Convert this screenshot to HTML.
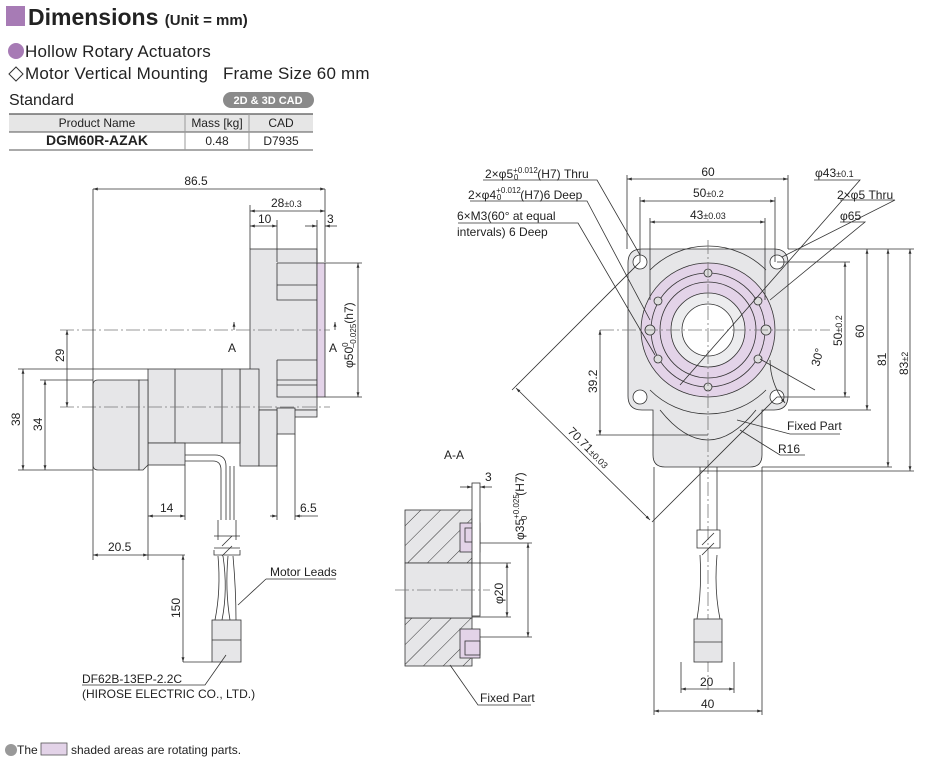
<!DOCTYPE html>
<html><head><meta charset="utf-8"><style>
html,body{margin:0;padding:0;background:#fff;}
body{width:950px;height:774px;overflow:hidden;font-family:"Liberation Sans",sans-serif;}
svg text{font-family:"Liberation Sans",sans-serif;fill:#222;}
</style></head><body>
<svg width="950" height="774" viewBox="0 0 950 774" xmlns="http://www.w3.org/2000/svg">
<defs>
<marker id="a" viewBox="0 0 10 10" refX="10" refY="5" markerWidth="6" markerHeight="6" orient="auto-start-reverse"><path d="M0,2L10,5L0,8z" fill="#333"/></marker>
<pattern id="h" width="14" height="14" patternUnits="userSpaceOnUse" patternTransform="rotate(45)"><rect width="14" height="14" fill="#e6e6e8"/><line x1="0" y1="0" x2="0" y2="14" stroke="#333" stroke-width="1"/></pattern>
</defs>
<rect x="6" y="6" width="19" height="20" fill="#a77bb5"/>
<text x="28" y="25" font-size="23" font-weight="bold">Dimensions <tspan font-size="15">(Unit = mm)</tspan></text>
<circle cx="16" cy="51" r="8" fill="#a77bb5"/>
<text x="25" y="57" font-size="17" letter-spacing="0.2">Hollow Rotary Actuators</text>
<path d="M9,74 L16,67 L23,74 L16,81 Z" fill="none" stroke="#333"/>
<text x="25" y="79" font-size="17" letter-spacing="0.2" xml:space="preserve">Motor Vertical Mounting   Frame Size 60 mm</text>
<text x="9" y="105" font-size="16">Standard</text>
<rect x="223" y="92" width="91" height="16" rx="8" fill="#8a8a8a"/>
<text x="268" y="104" font-size="11" font-weight="bold" style="fill:#fff" text-anchor="middle">2D &amp; 3D CAD</text>
<rect x="9" y="114" width="304" height="18" fill="#e6e6e6"/>
<line x1="9" y1="114" x2="313" y2="114" stroke="#555" stroke-width="1.2"/>
<line x1="9" y1="132" x2="313" y2="132" stroke="#555"/>
<line x1="9" y1="150" x2="313" y2="150" stroke="#555"/>
<line x1="185" y1="114" x2="185" y2="150" stroke="#999"/>
<line x1="249" y1="114" x2="249" y2="150" stroke="#999"/>
<text x="97" y="127" font-size="12" text-anchor="middle">Product Name</text>
<text x="217" y="127" font-size="12" text-anchor="middle">Mass [kg]</text>
<text x="281" y="127" font-size="12" text-anchor="middle">CAD</text>
<text x="97" y="145" font-size="14" font-weight="bold" text-anchor="middle">DGM60R-AZAK</text>
<text x="217" y="145" font-size="12" text-anchor="middle">0.48</text>
<text x="281" y="145" font-size="12" text-anchor="middle">D7935</text>

<g stroke="#333" stroke-width="0.8" fill="none">
<g fill="#e6e6e8">
<rect x="250" y="249" width="67" height="161"/>
<rect x="277" y="410" width="40" height="7"/>
<rect x="277" y="408" width="18" height="26"/>
<rect x="240" y="369" width="19" height="97"/>
<rect x="259" y="410" width="18" height="56"/>
<rect x="148" y="369" width="92" height="74"/>
<rect x="148" y="443" width="37" height="22"/>
<path d="M93,385 Q93,380 98,380 L139,380 L139,470 L98,470 Q93,470 93,465 Z"/>
<path d="M139,380 L148,380 L148,465 L143,470 L139,470 Z"/>
</g>
<rect x="317" y="263" width="8" height="134" fill="#e3d3e8"/>
<path d="M277,263 H317 M277,263 V300 H317 M277,285 H317 M277,360 H317 M277,360 V397 H317 M277,380 H317 M277,385 H317"/>
<path d="M175,369 V443 M222,369 V443"/>
<path d="M185,455 H215 Q226,455 226,466 V520 M185,461 H213 Q221,461 221,470 V520 M230,466 V520 M234,466 V520"/>
<path d="M218,520 V540 M236,520 V540 M214,536 H240 M214,548 H240 M222,546 L232,536 M222,556 L232,546 M214,550 V555 H240 V550"/>
<path d="M218,556 Q221,590 215,620 M223,556 Q228,590 222,620 M228,556 Q225,590 230,620 M233,556 Q236,590 236,620"/>
<rect x="212" y="620" width="29" height="42" fill="#e6e6e8"/>
<line x1="212" y1="640" x2="241" y2="640"/>
<g stroke-dasharray="14,3,2,3" stroke="#777"><line x1="60" y1="330" x2="330" y2="330"/><line x1="60" y1="407" x2="330" y2="407"/></g>
<path d="M93,189 V480 M325,189 V262 M250,205 V249 M277,220 V262 M317,220 V262 M93,480 V560 M148,465 V560 M185,465 V520 M277,434 V520 M295,434 V520"/>
<line x1="93" y1="189" x2="325" y2="189" marker-start="url(#a)" marker-end="url(#a)"/>
<line x1="250" y1="211" x2="325" y2="211" marker-start="url(#a)" marker-end="url(#a)"/>
<line x1="250" y1="226" x2="277" y2="226" marker-start="url(#a)" marker-end="url(#a)"/>
<line x1="305" y1="226" x2="317" y2="226" marker-end="url(#a)"/><line x1="337" y1="226" x2="325" y2="226" marker-end="url(#a)"/>
<path d="M325,263 H362 M325,397 H362"/>
<line x1="358" y1="263" x2="358" y2="397" marker-start="url(#a)" marker-end="url(#a)"/>
<line x1="67" y1="330" x2="67" y2="407" marker-start="url(#a)" marker-end="url(#a)"/>
<path d="M18,369 H148 M40,380 H93 M18,470 H93"/>
<line x1="23" y1="369" x2="23" y2="470" marker-start="url(#a)" marker-end="url(#a)"/>
<line x1="45" y1="380" x2="45" y2="470" marker-start="url(#a)" marker-end="url(#a)"/>
<line x1="148" y1="516" x2="185" y2="516" marker-start="url(#a)" marker-end="url(#a)"/>
<line x1="270" y1="516" x2="277" y2="516" marker-end="url(#a)"/><line x1="295" y1="516" x2="318" y2="516"/><line x1="302" y1="516" x2="295" y2="516" marker-end="url(#a)"/>
<line x1="93" y1="555" x2="148" y2="555" marker-start="url(#a)" marker-end="url(#a)"/>
<path d="M148,555 H185 M183,662 H212"/>
<line x1="183" y1="555" x2="183" y2="662" marker-start="url(#a)" marker-end="url(#a)"/>
<line x1="234" y1="322" x2="234" y2="330" marker-start="url(#a)"/><line x1="335" y1="322" x2="335" y2="330" marker-start="url(#a)"/>
<path d="M82,685 H205 L226,655 M266,579 H336 M266,579 L238,605"/>

<rect x="405" y="510" width="67" height="53" fill="url(#h)"/>
<rect x="405" y="618" width="67" height="48" fill="url(#h)"/>
<rect x="405" y="563" width="67" height="55" fill="#e6e6e8"/>
<rect x="460" y="523" width="20" height="29" fill="#e3d3e8"/>
<rect x="460" y="629" width="20" height="29" fill="#e3d3e8"/>
<rect x="465" y="528" width="15" height="14"/><rect x="465" y="641" width="15" height="14"/>
<rect x="472" y="483" width="8" height="133" fill="#fff"/>
<line x1="395" y1="590" x2="490" y2="590" stroke-dasharray="14,3,2,3" stroke="#777"/>
<line x1="460" y1="487" x2="472" y2="487" marker-end="url(#a)"/><line x1="492" y1="487" x2="480" y2="487" marker-end="url(#a)"/>
<path d="M480,543 H532 M480,637 H532 M472,563 H511 M472,617 H511"/>
<line x1="528" y1="543" x2="528" y2="637" marker-start="url(#a)" marker-end="url(#a)"/>
<line x1="507" y1="563" x2="507" y2="617" marker-start="url(#a)" marker-end="url(#a)"/>
<path d="M450,665 L478,705 H531"/>

<path d="M642,249 H774 Q788,249 788,263 V396 Q788,410 774,410 H762 V455 Q762,467 750,467 H665 Q653,467 653,455 V410 H642 Q628,410 628,396 V263 Q628,249 642,249 Z" fill="#e6e6e8"/>
<path d="M660,410 Q708,470 756,410" />
<path d="M650,270 A82,82 0 0 1 766,270 M650,390 A82,82 0 0 0 766,390"/>
<circle cx="708" cy="330" r="67" fill="#e3d3e8"/>
<circle cx="708" cy="330" r="57"/><circle cx="708" cy="330" r="48"/>
<circle cx="708" cy="330" r="37" fill="#ececee"/>
<circle cx="708" cy="330" r="26" fill="#fff"/>
<g fill="#fff"><circle cx="640" cy="262" r="7"/><circle cx="777" cy="262" r="7"/><circle cx="640" cy="397" r="7"/><circle cx="777" cy="397" r="7"/></g>
<g fill="#ddd"><circle cx="708" cy="273" r="4"/><circle cx="708" cy="387" r="4"/><circle cx="658" cy="301" r="4"/><circle cx="758" cy="301" r="4"/><circle cx="658" cy="359" r="4"/><circle cx="758" cy="359" r="4"/><circle cx="650" cy="330" r="5"/><circle cx="766" cy="330" r="5"/></g>
<g stroke-dasharray="14,3,2,3" stroke="#777"><line x1="600" y1="330" x2="830" y2="330"/><line x1="708" y1="240" x2="708" y2="690"/></g>
<path d="M700,467 V530 M717,467 V530 M697,530 H720 V548 H697 Z M702,545 L714,533 M702,555 L714,543 M700,555 Q702,590 697,619 M717,555 Q714,590 720,619"/>
<rect x="694" y="619" width="28" height="43" fill="#e6e6e8"/><line x1="694" y1="642" x2="722" y2="642"/>
<path d="M627,175 V249 M788,175 V249 M640,197 V262 M775,197 V262 M650,218 V300 M765,218 V300"/>
<line x1="627" y1="179" x2="788" y2="179" marker-start="url(#a)" marker-end="url(#a)"/>
<line x1="640" y1="201" x2="775" y2="201" marker-start="url(#a)" marker-end="url(#a)"/>
<line x1="650" y1="222" x2="765" y2="222" marker-start="url(#a)" marker-end="url(#a)"/>
<path d="M777,262 H850 M777,397 H850 M788,249 H914 M788,410 H871 M762,467 H892 M700,471 H914"/>
<line x1="845" y1="262" x2="845" y2="397" marker-start="url(#a)" marker-end="url(#a)"/>
<line x1="867" y1="249" x2="867" y2="410" marker-start="url(#a)" marker-end="url(#a)"/>
<line x1="888" y1="249" x2="888" y2="467" marker-start="url(#a)" marker-end="url(#a)"/>
<line x1="910" y1="249" x2="910" y2="471" marker-start="url(#a)" marker-end="url(#a)"/>
<path d="M596,435 H708"/>
<line x1="600" y1="330" x2="600" y2="435" marker-start="url(#a)" marker-end="url(#a)"/>
<path d="M681,662 V693 M734,662 V693 M654,467 V715 M762,467 V715"/>
<line x1="681" y1="689" x2="734" y2="689" marker-start="url(#a)" marker-end="url(#a)"/>
<line x1="654" y1="711" x2="762" y2="711" marker-start="url(#a)" marker-end="url(#a)"/>
<path d="M640,262 L512,390 M777,397 L652,522"/>
<line x1="516" y1="388" x2="650" y2="520" marker-start="url(#a)" marker-end="url(#a)"/>
<path d="M770,360 A72,72 0 0 0 785,403" marker-end="url(#a)"/>
<path d="M760,359 L815,390"/>
<path d="M483,180 H597 L640,255 M470,201 H587 L650,320 M458,223 H578 L655,355 M814,180 H860 L680,385 M840,200 H895 L782,257 M840,222 H865 L770,300 M737,420 L790,434 H840 M740,430 L780,455 H805"/>
</g>

<g font-size="12">
<text x="196" y="185" text-anchor="middle">86.5</text>
<text x="271" y="207">28<tspan font-size="9">±0.3</tspan></text>
<text x="258" y="223">10</text>
<text x="327" y="223">3</text>
<text x="228" y="352">A</text>
<text x="329" y="352">A</text>
<text transform="translate(353,368) rotate(-90)">φ50<tspan font-size="8" dy="-5">0</tspan><tspan font-size="8" dx="-6" dy="8">−0.025</tspan><tspan dy="-3">(h7)</tspan></text>
<text transform="translate(64,362) rotate(-90)">29</text>
<text transform="translate(20,426) rotate(-90)">38</text>
<text transform="translate(42,431) rotate(-90)">34</text>
<text x="160" y="512">14</text>
<text x="300" y="512">6.5</text>
<text x="108" y="551">20.5</text>
<text transform="translate(180,618) rotate(-90)">150</text>
<text x="270" y="576">Motor Leads</text>
<text x="82" y="683">DF62B-13EP-2.2C</text>
<text x="82" y="698">(HIROSE ELECTRIC CO., LTD.)</text>
<text x="444" y="459">A-A</text>
<text x="485" y="481">3</text>
<text transform="translate(524,540) rotate(-90)">φ35<tspan font-size="8" dy="-5">+0.025</tspan><tspan font-size="8" dx="-26" dy="8">0</tspan><tspan dx="20" dy="-3">(H7)</tspan></text>
<text transform="translate(503,604) rotate(-90)">φ20</text>
<text x="480" y="702">Fixed Part</text>
<text x="485" y="178">2×φ5<tspan font-size="8" dy="-5">+0.012</tspan><tspan font-size="8" dx="-24" dy="7">0</tspan><tspan dx="19" dy="-2">(H7) Thru</tspan></text>
<text x="468" y="199">2×φ4<tspan font-size="8" dy="-6">+0.012</tspan><tspan font-size="8" dx="-24" dy="7">0</tspan><tspan dx="19" dy="-1">(H7)6 Deep</tspan></text>
<text x="457" y="220">6×M3(60° at equal</text>
<text x="457" y="236">intervals) 6 Deep</text>
<text x="708" y="176" text-anchor="middle">60</text>
<text x="693" y="197">50<tspan font-size="9">±0.2</tspan></text>
<text x="690" y="219">43<tspan font-size="9">±0.03</tspan></text>
<text x="815" y="177">φ43<tspan font-size="9">±0.1</tspan></text>
<text x="837" y="199">2×φ5 Thru</text>
<text x="840" y="220">φ65</text>
<text transform="translate(842,346) rotate(-90)">50<tspan font-size="9">±0.2</tspan></text>
<text transform="translate(864,338) rotate(-90)">60</text>
<text transform="translate(886,366) rotate(-90)">81</text>
<text transform="translate(908,375) rotate(-90)">83<tspan font-size="9">±2</tspan></text>
<text transform="translate(597,393) rotate(-90)">39.2</text>
<text transform="translate(819,367) rotate(-75)">30°</text>
<text x="787" y="430">Fixed Part</text>
<text x="778" y="453">R16</text>
<text transform="translate(567,432) rotate(45)">70.71<tspan font-size="9">±0.03</tspan></text>
<text x="700" y="686">20</text>
<text x="701" y="708">40</text>
</g>
<circle cx="11" cy="750" r="6" fill="#999"/>
<text x="17" y="754" font-size="12">The</text>
<rect x="41" y="743" width="26" height="12" fill="#e3d3e8" stroke="#555" stroke-width="0.8"/>
<text x="71" y="754" font-size="12">shaded areas are rotating parts.</text>
</svg>
</body></html>
